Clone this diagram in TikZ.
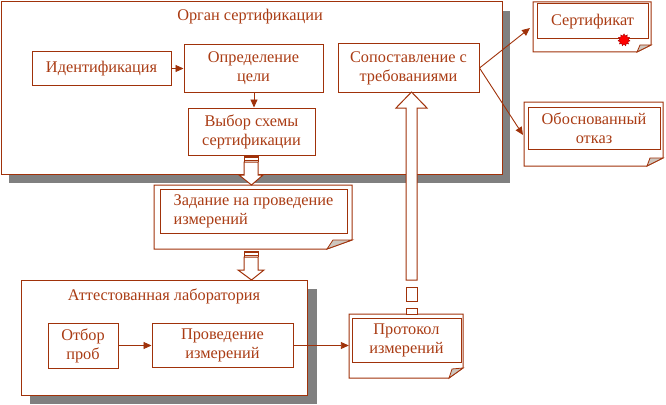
\documentclass[tikz,border=0pt]{standalone}
\usepackage{fontspec}
\setmainfont{Liberation Serif}
\usetikzlibrary{shapes.geometric,arrows.meta,calc}
\definecolor{br}{RGB}{160,50,10}
\definecolor{txt}{RGB}{170,60,20}
\definecolor{shd}{RGB}{128,128,128}
\definecolor{foldc}{RGB}{205,198,190}
\begin{document}
\begin{tikzpicture}[x=1pt,y=-1pt,
  box/.style={draw=br,line width=1pt,text=txt,align=center,inner sep=0pt,
    font=\fontsize{16.3}{19}\selectfont},
  area/.style={draw=none,inner sep=0pt},
  ttl/.style={text=txt,inner sep=0pt,font=\fontsize{16.3}{19}\selectfont},
  conn/.style={draw=br,line width=0.9pt,-{Triangle[length=8pt,width=7pt]}},
  hollow/.style={draw=br,line width=1pt,fill=white},
  docout/.style={draw=br,line width=1pt,fill=white},
  foldst/.style={draw=br,line width=0.8pt,fill=foldc}]
\useasboundingbox (0,0) rectangle (666,404);

% ---- Organ sertifikatsii
\fill[shd] (9,11) rectangle (510,183);
\node[box,fill=white,minimum width=501pt,minimum height=172pt] (org) at (251.5,88) {};
\node[ttl] (orgt) at (250,17) {Орган сертификации};
\node[box,minimum width=139pt,minimum height=33pt] (ident) at (101.5,68.5) {Идентификация};
\node[box,minimum width=139pt,minimum height=47pt] (opr) at (253.5,68.5) {Определение\\цели};
\node[box,minimum width=127pt,minimum height=47pt] (vyb) at (251.5,131.5) {Выбор схемы\\сертификации};
\node[box,minimum width=141pt,minimum height=48pt] (sop) at (408.5,68) {Сопоставление с\\требованиями};
\draw[conn] (ident.east) -- (opr.west);
\draw[conn] (opr.south -| 254,0) -- (254,0 |- vyb.north);

% ---- Laboratoriya
\fill[shd] (30,289) rectangle (317,404);
\node[box,fill=white,minimum width=286pt,minimum height=115pt] (lab) at (164,337.5) {};
\node[ttl] (labt) at (164,296) {Аттестованная лаборатория};
\node[box,minimum width=70pt,minimum height=45pt] (otb) at (83,345.5) {Отбор\\проб};
\node[box,minimum width=141pt,minimum height=44pt] (prov) at (222.5,345.5) {Проведение\\измерений};
\draw[conn] (otb.east) -- (prov.west);

% ---- Zadanie document
\path[docout] (154,185) -- (352,185) -- (352,240) -- (327,249) -- (154,249) -- cycle;
\path[foldst] (327,249) -- (333,240) -- (352,240) -- cycle;
\node[area,minimum width=198pt,minimum height=64pt] (zadO) at (253,217) {};
\node[box,minimum width=187pt,minimum height=44pt,align=left] (zad) at (253.5,211) {Задание на проведение\\измерений};

% ---- Protokol document
\path[docout] (349,314) -- (463,314) -- (463,368) -- (449,378) -- (349,378) -- cycle;
\path[foldst] (449,378) -- (452,369) -- (463,368) -- cycle;
\node[area,minimum width=114pt,minimum height=64pt] (protO) at (406,346) {};
\node[box,minimum width=109pt,minimum height=44pt] (prot) at (406.5,340) {Протокол\\измерений};
\draw[conn] (prov.east) -- (protO.west |- prov.east);

% ---- Sertifikat document
\path[docout] (533,2) -- (651,2) -- (651,45) -- (637,52) -- (533,52) -- cycle;
\path[foldst] (637,52) -- (640,45) -- (651,45) -- cycle;
\node[area,minimum width=118pt,minimum height=50pt] (certO) at (592,27) {};
\node[box,minimum width=111pt,minimum height=35pt] (cert) at (592.5,21.5) {Сертификат};
\node[star,star points=11,star point ratio=1.45,fill=red,draw=red!70!black,line width=0.5pt,
  minimum size=12pt,inner sep=0pt] (seal) at (624,40) {};

% ---- Otkaz document
\path[docout] (524,102) -- (663,102) -- (663,158) -- (647,166) -- (524,166) -- cycle;
\path[foldst] (647,166) -- (650,158) -- (663,158) -- cycle;
\node[area,minimum width=139pt,minimum height=64pt] (otkO) at (593.5,134) {};
\node[box,minimum width=132pt,minimum height=42pt] (otk) at (594,128) {Обоснованный\\отказ};

\coordinate (tipc) at (530,28);
\coordinate (tipo) at (523,135);
\draw[conn] (sop.east) -- (tipc);
\draw[conn] (sop.east) -- (tipo);

% ---- hollow arrows
% vyb -> zadanie
\path[hollow] (244,162) -- (258,162) -- (258,175) -- (263,175) -- (251.5,185) -- (239,175) -- (244,175) -- cycle;
\draw[br,line width=2pt] (244,157) -- (258,157);
\draw[br,line width=1pt] (244,160) -- (258,160);
\draw[br,line width=1pt] (244,156) -- (244,162) (258,156) -- (258,162);
% zadanie -> lab
\path[hollow] (244,257) -- (258,257) -- (258,270) -- (264,270) -- (251.5,280) -- (238,270) -- (244,270) -- cycle;
\draw[br,line width=2pt] (244,252) -- (258,252);
\draw[br,line width=1pt] (244,255.5) -- (258,255.5);
\draw[br,line width=1pt] (244,251) -- (244,257) (258,251) -- (258,257);
% protokol -> sopostavlenie
\path[hollow] (406,280) -- (417,280) -- (417,108) -- (427,108) -- (411.5,92) -- (396,108) -- (406,108) -- cycle;
\path[hollow] (406,287) rectangle (417,301);
\path[hollow] (406,308) rectangle (417,314);
\end{tikzpicture}
\end{document}
